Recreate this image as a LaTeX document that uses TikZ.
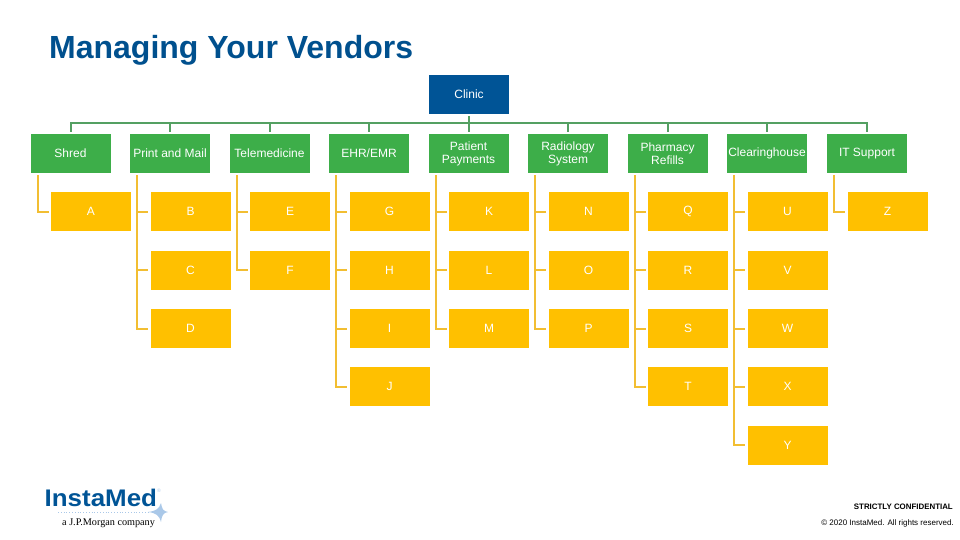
\documentclass[tikz,border=0pt]{standalone}
\usepackage{fontspec}
\usepackage{graphicx}
\setmainfont{Liberation Sans}
\newfontfamily\logoserif{Liberation Serif}
\definecolor{titleblue}{RGB}{0,80,142}
\definecolor{clinicblue}{RGB}{0,84,150}
\definecolor{headgreen}{RGB}{61,174,73}
\definecolor{linkgreen}{RGB}{84,160,98}
\definecolor{leafyellow}{RGB}{255,192,0}
\definecolor{linkyellow}{RGB}{242,190,50}
\definecolor{starblue}{RGB}{170,200,232}
\begin{document}
\begin{tikzpicture}[x=1pt,y=-1pt,
    box/.style={minimum width=80pt,minimum height=39pt,inner sep=0pt,text=white,
      font=\fontsize{12}{13}\selectfont,align=center},
    clinicbox/.style={box,fill=clinicblue},
    headbox/.style={box,fill=headgreen},
    leafbox/.style={box,fill=leafyellow},
    headlink/.style={draw=linkgreen,line width=2pt,shorten <=2pt,shorten >=2pt},
    leaflink/.style={draw=linkyellow,line width=2pt,shorten >=2pt}]
    \useasboundingbox (0,0) rectangle (960,540);
    \node[anchor=base west,inner sep=0pt,text=titleblue,font=\fontsize{32}{36}\bfseries\selectfont] (title) at (49,58.3) {Managing Your Vendors};
    \node[clinicbox] (clinic) at (469,94.5) {Clinic};
    % Vendor categories in one row, each tied to the bus under the clinic.
    \foreach \name/\cx/\txt in {shred/70.5/Shred,print/170/Print and Mail,tele/269.5/Telemedicine,
        ehr/369/{EHR/EMR},patient/468.5/Patient\\Payments,radio/568/Radiology\\System,
        pharm/667.5/Pharmacy\\Refills,clear/767/Clearinghouse,support/867/IT Support} {
      \node[headbox] (\name) at (\cx,153.5) {\txt};
      \draw[headlink] (clinic.south) -- (469,123.5) -| (\name.north);
    }
    % Leaves: name / parent / column centre / row centre.
    \foreach \name/\parent/\cx/\cy in {A/shred/91/211.5,
        B/print/190.5/211.5,C/print/190.5/270,D/print/190.5/328.5,
        E/tele/290/211.5,F/tele/290/270,
        G/ehr/389.5/211.5,H/ehr/389.5/270,I/ehr/389.5/328.5,J/ehr/389.5/386.5,
        K/patient/489/211.5,L/patient/489/270,M/patient/489/328.5,
        N/radio/588.5/211.5,O/radio/588.5/270,P/radio/588.5/328.5,
        Q/pharm/688/211.5,R/pharm/688/270,S/pharm/688/328.5,T/pharm/688/386.5,
        U/clear/787.5/211.5,V/clear/787.5/270,W/clear/787.5/328.5,X/clear/787.5/386.5,Y/clear/787.5/445,
        Z/support/887.5/211.5} {
      \node[leafbox] (\name) at (\cx,\cy) {\name};
      \draw[leaflink] ([xshift=7.5pt,yshift=-2pt]\parent.south west) |- (\name.west);
    }
    % Logo and the notes in the bottom corners.
    \node[anchor=base west,inner sep=0pt,text=clinicblue,font=\fontsize{24}{26}\bfseries\selectfont] (logo) at (44.5,506) {\scalebox{1.08}[1]{InstaMed}};
    \node[anchor=west,inner sep=0pt,text=starblue,font=\fontsize{5}{5}\selectfont] (reg) at (157,491) {®};
    \draw[starblue,line width=0.8pt,dotted] (58,512) -- (150,512);
    \fill[starblue] (148,512) .. controls (156,511) and (159,509) .. (161,503)
      .. controls (162,509) and (163,511) .. (168,512)
      .. controls (163,513) and (162,515) .. (161,522)
      .. controls (159,515) and (156,513) .. (148,512) -- cycle;
    \node[anchor=west,inner sep=0pt,font=\logoserif\fontsize{10.2}{11}\selectfont] (morgan) at (62,523) {a J.P.Morgan company};
    \node[anchor=east,inner sep=0pt,font=\fontsize{7.9}{9}\bfseries\selectfont] (strict) at (953,507) {STRICTLY CONFIDENTIAL};
    \node[anchor=east,inner sep=0pt,font=\fontsize{8}{9}\selectfont] (rights) at (954,523) {© 2020 InstaMed. All rights reserved.};
  \end{tikzpicture}
\end{document}
